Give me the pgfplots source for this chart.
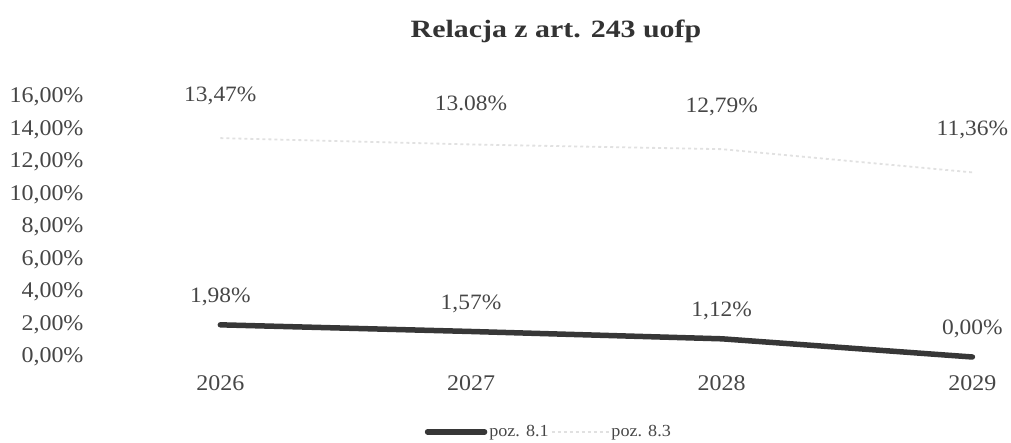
\documentclass[border=0pt]{standalone}
\usepackage{fontspec}
\setmainfont{Liberation Serif}[FakeStretch=1.07]
\newfontfamily\titlefont{Liberation Serif}[FakeStretch=1.2]
\usepackage{pgfplots}
\pgfplotsset{compat=1.18}
\definecolor{darkline}{RGB}{55,55,55}
\definecolor{lightline}{RGB}{225,225,225}
\definecolor{txt}{RGB}{70,70,70}
\begin{document}
\begin{tikzpicture}
\useasboundingbox (-95bp,-86bp) rectangle (916bp,357bp);
\node[font=\titlefont\fontsize{25}{30}\selectfont\bfseries, text=black!80] at (461bp,326bp) {Relacja z art. 243 uofp};
\begin{axis}[
  scale only axis, width=915bp, height=260bp,
  at={(0,0)}, anchor=south west,
  xmin=-0.5, xmax=3.15, ymin=0, ymax=16,
  axis line style={draw=none},
  major tick length=0pt,
  xtick={0,1,2,3}, xticklabels={2026,2027,2028,2029},
  ytick={0,2,4,6,8,10,12,14,16},
  yticklabels={{0,00\%},{2,00\%},{4,00\%},{6,00\%},{8,00\%},{10,00\%},{12,00\%},{14,00\%},{16,00\%}},
  /pgf/number format/assume math mode=true,
  tick label style={font=\fontsize{22.5}{26}\selectfont, text=txt},
  xticklabel style={yshift=-15bp},
  yticklabel style={xshift=-8bp},
  clip=false,
  legend style={draw=none, fill=none, at={(0.496,-0.288)}, anchor=center,
    font=\fontsize{17}{20}\selectfont, text=txt,
    /tikz/every odd column/.append style={column sep=0bp}},
  legend columns=2,
  legend image code/.code={\draw[#1] (0bp,0bp) -- (57bp,0bp);},
  nodes near coords,
  point meta=explicit symbolic,
  every node near coord/.append style={font=\fontsize{22}{26}\selectfont, text=txt},
]
\addplot[darkline, line width=5.5bp, line join=round, line cap=round,
  every node near coord/.append style={yshift=13bp}]
  coordinates {(0,1.98) [1,98\%] (1,1.57) [1,57\%] (2,1.12) [1,12\%] (3,0.00) [0,00\%]};
\addlegendentry{poz. 8.1}
\addplot[lightline, line width=1.8bp, dash pattern=on 3bp off 3bp,
  every node near coord/.append style={yshift=29bp}]
  coordinates {(0,13.47) [13,47\%] (1,13.08) [13.08\%] (2,12.79) [12,79\%] (3,11.36) [11,36\%]};
\addlegendentry{poz. 8.3}
\end{axis}
\end{tikzpicture}
\end{document}
